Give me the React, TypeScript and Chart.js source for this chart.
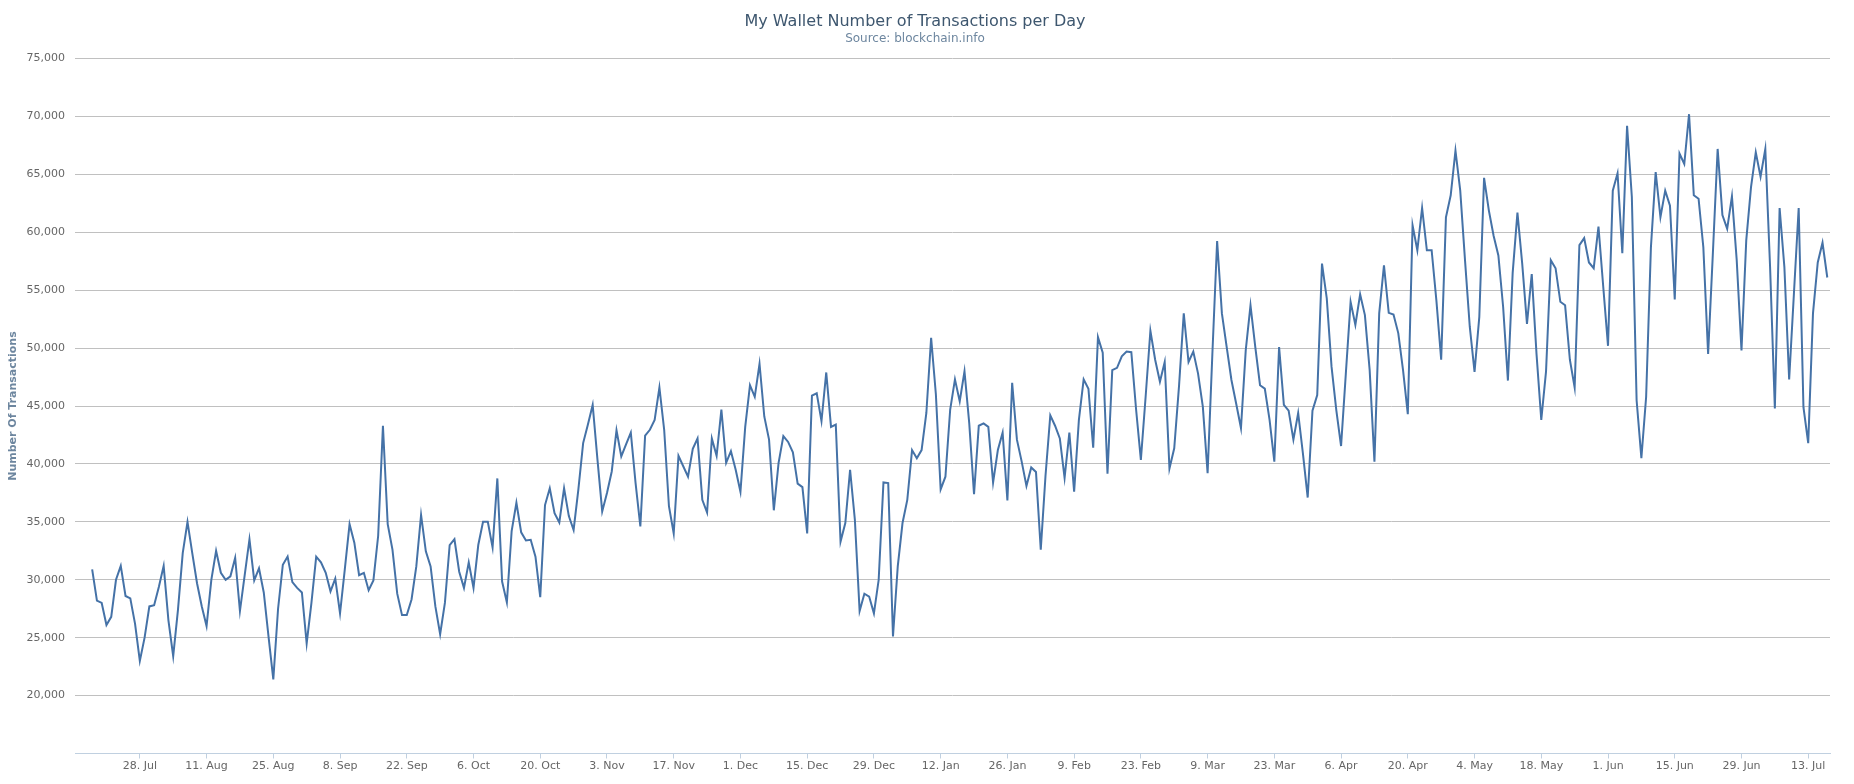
import React, { useEffect, useRef } from "react";
import { Chart, registerables } from "chart.js";

Chart.register(...registerables);

// Daily number of transactions, starting 18 Jul 2014 (index 0)
const txValues: number[] = [
  30900, 28200, 28000, 26100, 26800, 30000, 31200, 28600, 28400, 26200,
  23000, 25000, 27700, 27800, 29400, 31200, 26500, 23400, 27400, 32300,
  35000, 32300, 29700, 27700, 26000, 30000, 32500, 30600, 30000, 30300,
  31900, 27300, 30400, 33500, 29950, 31000, 28900, 25100, 21400, 27500,
  31300, 32000, 29800, 29300, 28900, 24500, 28000, 32000, 31500, 30600,
  29000, 30100, 27100, 30900, 34800, 33200, 30400, 30600, 29100, 29950,
  33800, 43300, 34800, 32600, 28800, 26950, 26950, 28300, 31150, 35600,
  32450, 31150, 27700, 25300, 28000, 33000, 33500, 30700, 29300, 31500,
  29300, 33000, 35000, 35000, 32800, 38750, 29850, 28050, 34200, 36650,
  34100, 33400, 33450, 32000, 28500, 36450, 37900, 35750, 34950, 37900,
  35500, 34300, 37800, 41800, 43400, 45100, 40400, 35900, 37500, 39350,
  42900, 40650, 41700, 42700, 38350, 34600, 42450, 42950, 43800, 46600,
  42950, 36350, 34000, 40700, 39800, 38900, 41300, 42200, 36900, 35800,
  42200, 40700, 44700, 40100, 41100, 39500, 37600, 43200, 46800, 45800,
  48650, 44100, 42100, 36000, 40100, 42400, 41900, 41000, 38300, 38000,
  34000, 45900, 46100, 43700, 47900, 43200, 43400, 33300, 34900, 39500,
  35200, 27300, 28800, 28550, 27100, 30000, 38400, 38350, 25100, 31150,
  34900, 36900, 41200, 40500, 41200, 44400, 50900, 46000, 37800, 38900,
  44700, 47300, 45400, 48000, 43500, 37400, 43300, 43500, 43200, 38400,
  41200, 42700, 36850, 47000, 42100, 40200, 38100, 39700, 39300, 32600,
  39000, 44200, 43300, 42200, 38800, 42700, 37600, 43800, 47300, 46500,
  41400, 50950, 49600, 39150, 48100, 48300, 49300, 49700, 49650, 44700,
  40350, 45800, 51500, 49000, 47100, 48800, 39600, 41350, 46700, 53000,
  48800, 49700, 47800, 44950, 39200, 49500, 59250, 53000, 50100, 47250,
  45200, 43100, 49800, 53700, 50100, 46800, 46500, 43800, 40200, 50100,
  45100, 44600, 42100, 44400, 40900, 37100, 44600, 45950, 57300, 54300,
  48400, 44650, 41550, 47800, 54000, 52000, 54650, 52850, 48100, 40200,
  53000, 57150, 53050, 52900, 51300, 48100, 44300, 60600, 58450, 62100,
  58450, 58450, 54100, 49000, 61300, 63200, 67050, 63600, 57600, 51850,
  47950, 52700, 64700, 61900, 59700, 58000, 53550, 47200, 56500, 61700,
  57300, 52100, 56400, 49500, 43800, 48000, 57600, 56900, 54000, 53700,
  49000, 46600, 58900, 59500, 57400, 56900, 60500, 55300, 50200, 63600,
  65100, 58200, 69200, 63050, 45500, 40500, 45800, 58700, 65200, 61300,
  63600, 62300, 54200, 66800, 65900, 70200, 63200, 62900, 58700, 49500,
  58200, 67200, 61500, 60300, 63100, 57600, 49800, 59300, 63900, 66900,
  64800, 67200, 57000, 44800, 62100, 57000, 47300, 54700, 62100, 44900,
  41800, 53000, 57400, 59100, 56100,
];

// Day index (from 18 Jul 2014) of each x-axis tick, and its label
const tickDays: number[] = [
  10, 24, 38, 52, 66, 80, 94, 108, 122, 136, 150, 164, 178,
  192, 206, 220, 234, 248, 262, 276, 290, 304, 318, 332, 346, 360,
];
const tickLabels: string[] = [
  "28. Jul", "11. Aug", "25. Aug", "8. Sep", "22. Sep", "6. Oct", "20. Oct",
  "3. Nov", "17. Nov", "1. Dec", "15. Dec", "29. Dec", "12. Jan", "26. Jan",
  "9. Feb", "23. Feb", "9. Mar", "23. Mar", "6. Apr", "20. Apr", "4. May",
  "18. May", "1. Jun", "15. Jun", "29. Jun", "13. Jul",
];

const yMin = 15000;
const yMax = 75000;
const yStep = 5000;

const chartTitle = "My Wallet Number of Transactions per Day";
const chartSubtitle = "Source: blockchain.info";
const yAxisTitle = "Number Of Transactions";

export default function App() {
  const canvasRef = useRef<HTMLCanvasElement | null>(null);

  useEffect(() => {
    document.body.style.margin = "0";
    const canvas = canvasRef.current;
    if (!canvas) return;
    const labelFont = { family: "'DejaVu Sans', Verdana, sans-serif", size: 11 };
    const chart = new Chart(canvas, {
      type: "line",
      data: {
        datasets: [
          {
            data: txValues.map((v, i) => ({ x: i, y: v })),
            borderColor: "#4572A7",
            backgroundColor: "#4572A7",
            borderWidth: 2,
            pointRadius: 0,
            tension: 0,
            fill: false,
          },
        ],
      },
      options: {
        responsive: false,
        animation: false,
        parsing: false as any,
        layout: { padding: { top: 12, left: 0, right: 24, bottom: 0 } },
        plugins: {
          legend: { display: false },
          tooltip: { enabled: false },
          title: {
            display: true,
            text: chartTitle,
            color: "#3E576F",
            font: { family: "'DejaVu Sans', Verdana, sans-serif", size: 16, weight: "normal" },
            padding: { top: 0, bottom: 0 },
          },
          subtitle: {
            display: true,
            text: chartSubtitle,
            color: "#6D869F",
            font: { family: "'DejaVu Sans', Verdana, sans-serif", size: 12, weight: "normal" },
            padding: { top: 0, bottom: 13 },
          },
        },
        scales: {
          x: {
            type: "linear",
            min: -3.6,
            max: 364.57,
            afterBuildTicks: (scale: any) => {
              scale.ticks = tickDays.map((d) => ({ value: d }));
            },
            afterFit: (scale: any) => {
              scale.height = 30.5;
            },
            ticks: {
              autoSkip: false,
              maxRotation: 0,
              padding: 1,
              color: "#666666",
              font: labelFont,
              callback: (_v: any, idx: number) => tickLabels[idx] ?? "",
            },
            grid: {
              drawOnChartArea: false,
              drawTicks: true,
              tickLength: 5,
              color: "#C0D0E0",
            },
            border: { display: true, color: "#C0D0E0", width: 1 },
          },
          y: {
            type: "linear",
            min: yMin,
            max: yMax,
            afterFit: (scale: any) => {
              scale.width = 75;
            },
            ticks: {
              stepSize: yStep,
              padding: 10,
              color: "#666666",
              font: labelFont,
              callback: (v: any) =>
                Number(v) === yMin ? "" : Number(v).toLocaleString("en-US"),
            },
            grid: { color: "#C0C0C0", drawTicks: false, lineWidth: 1 },
            border: { display: false },
            title: {
              display: true,
              text: yAxisTitle,
              color: "#6D869F",
              font: { family: "'DejaVu Sans', Verdana, sans-serif", size: 11, weight: "bold" },
              padding: { top: 7, bottom: 0 },
            },
          },
        },
      },
    } as any);
    return () => chart.destroy();
  }, []);

  return (
    <div style={{ width: 1854, height: 784 }}>
      <canvas ref={canvasRef} width={1854} height={784} style={{ display: "block" }} />
    </div>
  );
}
